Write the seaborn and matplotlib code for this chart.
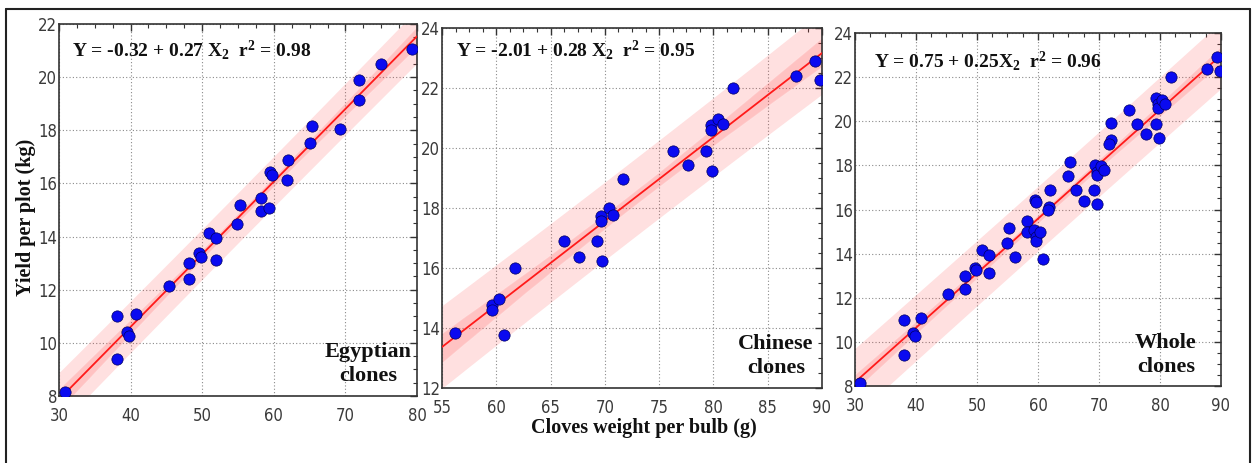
import numpy as np
import pandas as pd
import matplotlib
matplotlib.use("Agg")
import matplotlib.pyplot as plt
from matplotlib.path import Path
from matplotlib.lines import Line2D
from matplotlib.ticker import MultipleLocator
import seaborn as sns

# ---------------- data ----------------
egypt_x = [30.9, 38.1, 38.1, 39.5, 39.8, 40.8, 45.3, 48.1, 48.1, 49.6, 49.8, 50.9, 51.9, 51.9,
           54.9, 55.3, 58.2, 58.2, 59.3, 59.5, 59.7, 61.8, 62.0, 65.0, 65.3, 69.3, 71.9, 71.9,
           74.9, 79.3]
egypt_y = [8.15, 11.0, 9.41, 10.4, 10.27, 11.1, 12.15, 12.99, 12.4, 13.37, 13.24, 14.15, 13.93, 13.1,
           14.48, 15.18, 15.46, 14.97, 15.06, 16.42, 16.32, 16.13, 16.9, 17.53, 18.16, 18.04, 19.9, 19.14,
           20.51, 21.07]

china_x = [56.2, 59.65, 59.65, 60.3, 60.75, 61.7, 66.25, 67.6, 69.25, 69.65, 69.65, 69.7, 70.35,
           70.75, 71.7, 76.3, 77.65, 79.3, 79.75, 79.75, 79.85, 80.4, 80.9, 81.8, 87.65, 89.35, 89.8]
china_y = [13.83, 14.75, 14.59, 14.97, 13.77, 15.99, 16.89, 16.37, 16.89, 17.72, 17.57, 16.23, 17.99,
           17.77, 18.97, 19.89, 19.42, 19.89, 20.77, 20.6, 19.24, 20.97, 20.79, 22.0, 22.39, 22.91, 22.26]

whole_x = egypt_x + china_x
whole_y = egypt_y + china_y

equations = ["Y = -0.32 + 0.27 X$_\\mathregular{2}$  r$^\\mathregular{2}$ = 0.98",
             "Y = -2.01 + 0.28 X$_\\mathregular{2}$  r$^\\mathregular{2}$ = 0.95",
             "Y = 0.75 + 0.25X$_\\mathregular{2}$  r$^\\mathregular{2}$ = 0.96"]
group_labels = ["Egyptian\nclones", "Chinese\nclones", "Whole\nclones"]
y_label = "Yield per plot (kg)"
x_label = "Cloves weight per bulb (g)"

# t critical values (95 %, two-sided) for n-2 degrees of freedom
t_crit = [2.048, 2.060, 2.004]

# ---------------- style ----------------
sns.set_style("white")
plt.rcParams["font.family"] = ["DejaVu Sans"]
plt.rcParams["font.stretch"] = "condensed"
plt.rcParams["mathtext.fontset"] = "custom"
plt.rcParams["mathtext.rm"] = "Liberation Serif:bold"
plt.rcParams["mathtext.it"] = "Liberation Serif:bold:italic"
plt.rcParams["mathtext.bf"] = "Liberation Serif:bold"

fig = plt.figure(figsize=(12.52, 4.63), dpi=100)

specs = [
    dict(x=egypt_x, y=egypt_y, rect=[0.0471, 0.1447, 0.2860, 0.8035], xlim=(30, 80), ylim=(8, 22),
         xmaj=10, xmin=2.5, eq_pos=(0.036, 0.93), lab_pos=(0.863, 0.086)),
    dict(x=china_x, y=china_y, rect=[0.3530, 0.1620, 0.3035, 0.7775], xlim=(55, 90), ylim=(12, 24),
         xmaj=5, xmin=1.25, eq_pos=(0.037, 0.94), lab_pos=(0.879, 0.089)),
    dict(x=whole_x, y=whole_y, rect=[0.6829, 0.1663, 0.2923, 0.7624], xlim=(30, 90), ylim=(8, 24),
         xmaj=10, xmin=2.5, eq_pos=(0.052, 0.92), lab_pos=(0.85, 0.088)),
]

# elliptical marker (slightly taller than wide)
circ = Path.unit_circle()
ell = Path(circ.vertices * np.array([0.8, 1.0]), circ.codes)

for i, sp in enumerate(specs):
    ax = fig.add_axes(sp["rect"])
    ax.set_xlim(*sp["xlim"])
    ax.set_ylim(*sp["ylim"])
    df = pd.DataFrame({"x": sp["x"], "y": sp["y"]})

    # prediction band computed from the data
    xa = np.asarray(sp["x"]); ya = np.asarray(sp["y"])
    n = len(xa)
    b1, b0 = np.polyfit(xa, ya, 1)
    resid = ya - (b0 + b1 * xa)
    s = np.sqrt(np.sum(resid ** 2) / (n - 2))
    xm = xa.mean(); sxx = np.sum((xa - xm) ** 2)
    xg = np.linspace(sp["xlim"][0], sp["xlim"][1], 200)
    yg = b0 + b1 * xg
    half = t_crit[i] * s * np.sqrt(1 + 1 / n + (xg - xm) ** 2 / sxx)
    ax.fill_between(xg, yg - half, yg + half, color="#ff3030", alpha=0.15, lw=0, zorder=1)

    sns.regplot(data=df, x="x", y="y", ax=ax, ci=95, truncate=False, n_boot=1000, seed=3,
                scatter_kws=dict(s=66, marker=ell, color="#0a0af0", edgecolor="#000060",
                                 linewidths=0.5, alpha=1, zorder=4),
                line_kws=dict(color="#ff1a1a", lw=1.3, zorder=3))

    ax.set_xlim(*sp["xlim"])
    ax.set_ylim(*sp["ylim"])
    ax.set_xlabel("")
    ax.set_ylabel("")

    ax.xaxis.set_major_locator(MultipleLocator(sp["xmaj"]))
    ax.xaxis.set_minor_locator(MultipleLocator(sp["xmin"]))
    ax.yaxis.set_major_locator(MultipleLocator(2))
    ax.yaxis.set_minor_locator(MultipleLocator(0.5))
    ax.tick_params(which="both", direction="in", top=True, right=True, colors="#333333",
                   labelsize=12, labelcolor="#3a3a3a")
    ax.tick_params(which="major", length=5, width=1)
    ax.tick_params(which="minor", length=3, width=0.8)
    ax.tick_params(axis="y", pad=1.5)
    ax.tick_params(axis="x", pad=8)
    for lab in ax.get_xticklabels() + ax.get_yticklabels():
        lab.set_fontstretch("condensed")
    ax.grid(True, which="major", color="#8a8a8a", linestyle=(0, (1, 2)), linewidth=0.8, zorder=0)
    ax.set_axisbelow(True)
    for spn in ax.spines.values():
        spn.set_visible(True)
        spn.set_color("#333333")
        spn.set_linewidth(1.2)

    ax.text(sp["eq_pos"][0], sp["eq_pos"][1], equations[i], transform=ax.transAxes,
            ha="left", va="center", fontsize=14, fontweight="bold", family="Liberation Serif",
            color="#111111", zorder=6)
    ax.text(sp["lab_pos"][0], sp["lab_pos"][1], group_labels[i], transform=ax.transAxes,
            ha="center", va="center", fontsize=16, fontweight="bold", family="Liberation Serif",
            color="#111111", linespacing=1.3, zorder=6)

fig.text(0.021, 0.531, y_label, rotation=90, ha="center", va="center", fontsize=14.5,
         fontweight="bold", family="Liberation Serif", color="#111111")
fig.text(0.514, 0.0756, x_label, ha="center", va="center", fontsize=14.5,
         fontweight="bold", family="Liberation Serif", color="#111111")

# outer frame
l, r, t, b = 6 / 1252, 1250 / 1252, 1 - 9 / 463, 0.0
for xs, ys in [([l, r], [t, t]), ([l, l], [b, t]), ([r, r], [b, t])]:
    fig.add_artist(Line2D(xs, ys, transform=fig.transFigure, color="#222222", lw=1.5))

fig.savefig("out.png", dpi=100)
